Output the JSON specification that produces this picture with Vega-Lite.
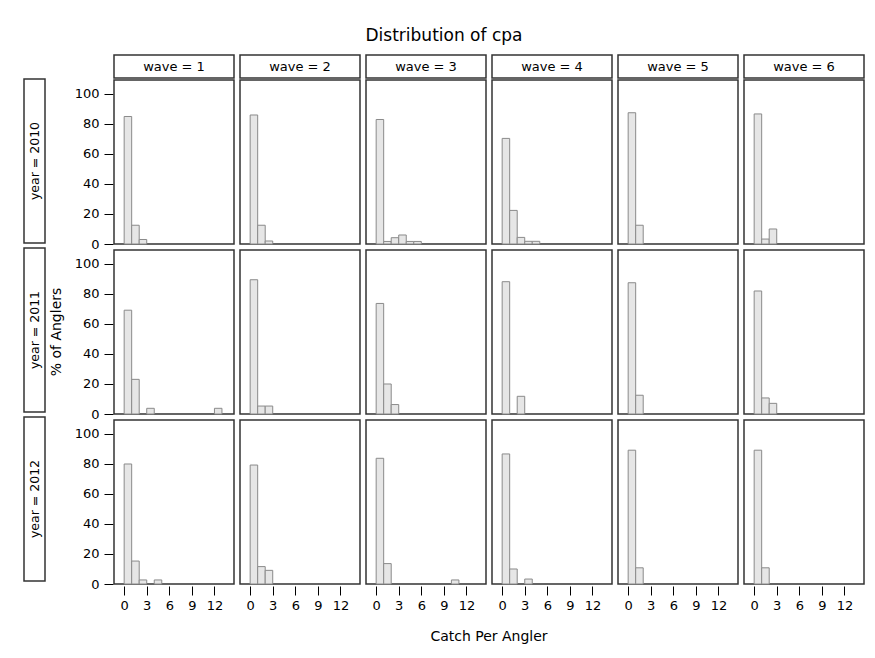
{
  "$schema": "https://vega.github.io/schema/vega-lite/v6.json",
  "padding": {"left": 23, "top": 27, "right": 5, "bottom": 5},
  "background": "white",
  "title": {"text": "Distribution of cpa", "fontSize": 17, "font": "DejaVu Sans", "fontWeight": "normal", "anchor": "middle", "offset": 9, "color": "#000"},
  "datasets": {
    "hist": [
      {"year": 2010, "wave": 1, "bin_start": 0, "bin_end": 1, "pct": 85},
      {"year": 2010, "wave": 1, "bin_start": 1, "bin_end": 2, "pct": 12.5},
      {"year": 2010, "wave": 1, "bin_start": 2, "bin_end": 3, "pct": 3},
      {"year": 2010, "wave": 2, "bin_start": 0, "bin_end": 1, "pct": 86},
      {"year": 2010, "wave": 2, "bin_start": 1, "bin_end": 2, "pct": 12.5},
      {"year": 2010, "wave": 2, "bin_start": 2, "bin_end": 3, "pct": 2},
      {"year": 2010, "wave": 3, "bin_start": 0, "bin_end": 1, "pct": 83},
      {"year": 2010, "wave": 3, "bin_start": 1, "bin_end": 2, "pct": 1.7},
      {"year": 2010, "wave": 3, "bin_start": 2, "bin_end": 3, "pct": 4.2},
      {"year": 2010, "wave": 3, "bin_start": 3, "bin_end": 4, "pct": 6},
      {"year": 2010, "wave": 3, "bin_start": 4, "bin_end": 5, "pct": 1.7},
      {"year": 2010, "wave": 3, "bin_start": 5, "bin_end": 6, "pct": 1.7},
      {"year": 2010, "wave": 4, "bin_start": 0, "bin_end": 1, "pct": 70.4},
      {"year": 2010, "wave": 4, "bin_start": 1, "bin_end": 2, "pct": 22.4},
      {"year": 2010, "wave": 4, "bin_start": 2, "bin_end": 3, "pct": 4.4},
      {"year": 2010, "wave": 4, "bin_start": 3, "bin_end": 4, "pct": 1.8},
      {"year": 2010, "wave": 4, "bin_start": 4, "bin_end": 5, "pct": 1.8},
      {"year": 2010, "wave": 5, "bin_start": 0, "bin_end": 1, "pct": 87.5},
      {"year": 2010, "wave": 5, "bin_start": 1, "bin_end": 2, "pct": 12.5},
      {"year": 2010, "wave": 6, "bin_start": 0, "bin_end": 1, "pct": 86.7},
      {"year": 2010, "wave": 6, "bin_start": 1, "bin_end": 2, "pct": 3.3},
      {"year": 2010, "wave": 6, "bin_start": 2, "bin_end": 3, "pct": 10},
      {"year": 2011, "wave": 1, "bin_start": 0, "bin_end": 1, "pct": 69.2},
      {"year": 2011, "wave": 1, "bin_start": 1, "bin_end": 2, "pct": 23.1},
      {"year": 2011, "wave": 1, "bin_start": 3, "bin_end": 4, "pct": 3.8},
      {"year": 2011, "wave": 1, "bin_start": 12, "bin_end": 13, "pct": 3.8},
      {"year": 2011, "wave": 2, "bin_start": 0, "bin_end": 1, "pct": 89.5},
      {"year": 2011, "wave": 2, "bin_start": 1, "bin_end": 2, "pct": 5.3},
      {"year": 2011, "wave": 2, "bin_start": 2, "bin_end": 3, "pct": 5.3},
      {"year": 2011, "wave": 3, "bin_start": 0, "bin_end": 1, "pct": 73.7},
      {"year": 2011, "wave": 3, "bin_start": 1, "bin_end": 2, "pct": 20},
      {"year": 2011, "wave": 3, "bin_start": 2, "bin_end": 3, "pct": 6.3},
      {"year": 2011, "wave": 4, "bin_start": 0, "bin_end": 1, "pct": 88.2},
      {"year": 2011, "wave": 4, "bin_start": 2, "bin_end": 3, "pct": 11.8},
      {"year": 2011, "wave": 5, "bin_start": 0, "bin_end": 1, "pct": 87.5},
      {"year": 2011, "wave": 5, "bin_start": 1, "bin_end": 2, "pct": 12.5},
      {"year": 2011, "wave": 6, "bin_start": 0, "bin_end": 1, "pct": 82},
      {"year": 2011, "wave": 6, "bin_start": 1, "bin_end": 2, "pct": 10.7},
      {"year": 2011, "wave": 6, "bin_start": 2, "bin_end": 3, "pct": 7.1},
      {"year": 2012, "wave": 1, "bin_start": 0, "bin_end": 1, "pct": 80},
      {"year": 2012, "wave": 1, "bin_start": 1, "bin_end": 2, "pct": 15.3},
      {"year": 2012, "wave": 1, "bin_start": 2, "bin_end": 3, "pct": 2.7},
      {"year": 2012, "wave": 1, "bin_start": 4, "bin_end": 5, "pct": 2.7},
      {"year": 2012, "wave": 2, "bin_start": 0, "bin_end": 1, "pct": 79.3},
      {"year": 2012, "wave": 2, "bin_start": 1, "bin_end": 2, "pct": 11.6},
      {"year": 2012, "wave": 2, "bin_start": 2, "bin_end": 3, "pct": 9.1},
      {"year": 2012, "wave": 3, "bin_start": 0, "bin_end": 1, "pct": 83.8},
      {"year": 2012, "wave": 3, "bin_start": 1, "bin_end": 2, "pct": 13.6},
      {"year": 2012, "wave": 3, "bin_start": 10, "bin_end": 11, "pct": 2.7},
      {"year": 2012, "wave": 4, "bin_start": 0, "bin_end": 1, "pct": 86.7},
      {"year": 2012, "wave": 4, "bin_start": 1, "bin_end": 2, "pct": 10},
      {"year": 2012, "wave": 4, "bin_start": 3, "bin_end": 4, "pct": 3.3},
      {"year": 2012, "wave": 5, "bin_start": 0, "bin_end": 1, "pct": 89.2},
      {"year": 2012, "wave": 5, "bin_start": 1, "bin_end": 2, "pct": 10.8},
      {"year": 2012, "wave": 6, "bin_start": 0, "bin_end": 1, "pct": 89.2},
      {"year": 2012, "wave": 6, "bin_start": 1, "bin_end": 2, "pct": 10.8}
    ],
    "waves": [
      {"wave": 1, "label": "wave = 1"},
      {"wave": 2, "label": "wave = 2"},
      {"wave": 3, "label": "wave = 3"},
      {"wave": 4, "label": "wave = 4"},
      {"wave": 5, "label": "wave = 5"},
      {"wave": 6, "label": "wave = 6"}
    ],
    "years": [
      {"year": 2010, "label": "year = 2010"},
      {"year": 2011, "label": "year = 2011"},
      {"year": 2012, "label": "year = 2012"}
    ]
  },
  "spacing": 3,
  "hconcat": [
    {
      "spacing": 0,
      "vconcat": [
        {
          "data": {"values": [{"a": 1}]},
          "width": 21,
          "height": 23,
          "view": {"stroke": null},
          "mark": {"type": "point", "opacity": 0},
          "encoding": {}
        },
        {
          "data": {"name": "years"},
          "spacing": 3,
          "facet": {"row": {"field": "year", "type": "ordinal", "header": null}},
          "spec": {
            "width": 21,
            "height": 164,
            "layer": [
              {"mark": {"type": "rect", "fill": "white", "stroke": "#333", "strokeWidth": 1.5}, "encoding": {}},
              {
                "mark": {"type": "text", "angle": 270, "fontSize": 12.5, "font": "DejaVu Sans", "color": "#000"},
                "encoding": {"text": {"field": "label"}}
              }
            ]
          }
        }
      ]
    },
    {
      "spacing": 0,
      "vconcat": [
        {
          "data": {"name": "waves"},
          "spacing": 4,
          "facet": {"column": {"field": "wave", "type": "ordinal", "header": null}},
          "spec": {
            "width": 120,
            "height": 23,
            "layer": [
              {"mark": {"type": "rect", "fill": "white", "stroke": "#333", "strokeWidth": 1.5}, "encoding": {}},
              {
                "mark": {"type": "text", "fontSize": 13, "font": "DejaVu Sans", "color": "#000"},
                "encoding": {"text": {"field": "label"}}
              }
            ]
          }
        },
        {
          "data": {"name": "hist"},
          "spacing": {"row": 3, "column": 4},
          "facet": {
            "row": {"field": "year", "type": "ordinal", "header": {"title": "% of Anglers", "labels": false, "titleOrient": "left", "titleFontSize": 14, "titleFontWeight": "normal", "titleFont": "DejaVu Sans", "titlePadding": 0, "labelPadding": 0}},
            "column": {"field": "wave", "type": "ordinal", "header": {"title": "Catch Per Angler", "labels": false, "titleOrient": "bottom", "titleFontSize": 14, "titleFontWeight": "normal", "titleFont": "DejaVu Sans", "titlePadding": 8, "labelPadding": 0}}
          },
          "spec": {
            "width": 120,
            "height": 164,
            "mark": {"type": "bar", "fill": "#e6e6e6", "stroke": "#8a8a8a", "strokeWidth": 1},
            "encoding": {
              "x": {
                "field": "bin_start",
                "type": "quantitative",
                "scale": {"domain": [-1.35, 14.6], "nice": false, "zero": false},
                "axis": {"values": [0, 3, 6, 9, 12], "title": null, "tickSize": 9, "labelPadding": 4}
              },
              "x2": {"field": "bin_end"},
              "y": {
                "field": "pct",
                "type": "quantitative",
                "scale": {"domain": [0, 109.33], "nice": false},
                "axis": {"values": [0, 20, 40, 60, 80, 100], "title": null, "tickSize": 9, "labelPadding": 5}
              },
              "y2": {"datum": 0}
            }
          }
        }
      ]
    }
  ],
  "config": {
    "font": "DejaVu Sans",
    "view": {"stroke": "#333", "strokeWidth": 1.5},
    "axis": {
      "grid": false,
      "domain": false,
      "labelFont": "DejaVu Sans",
      "titleFont": "DejaVu Sans",
      "labelFontSize": 13,
      "titleFontSize": 14,
      "titleFontWeight": "normal",
      "labelColor": "#000",
      "titleColor": "#000",
      "tickColor": "#000",
      "tickWidth": 1,
      "labelFlush": false,
      "labelOverlap": false
    }
  }
}
